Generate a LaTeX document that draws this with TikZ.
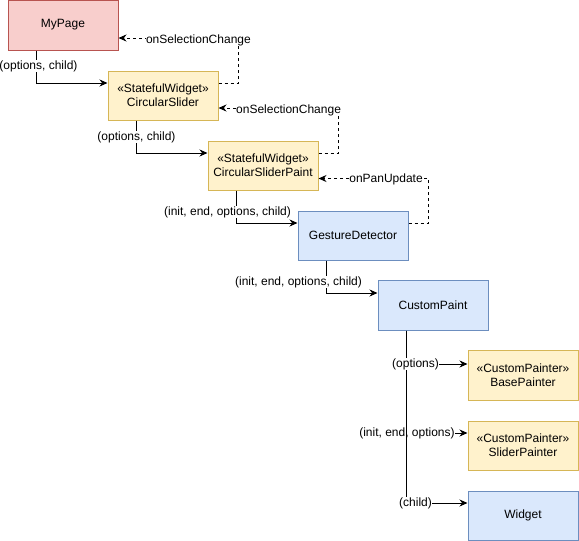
\documentclass[tikz,border=0pt]{standalone}
\usepackage{fontspec}
\setmainfont{Liberation Sans}
\usetikzlibrary{arrows.meta}
\definecolor{pinkfill}{HTML}{F8CECC}
\definecolor{pinkdraw}{HTML}{B85450}
\definecolor{yelfill}{HTML}{FFF2CC}
\definecolor{yeldraw}{HTML}{D6B656}
\definecolor{bluefill}{HTML}{DAE8FC}
\definecolor{bluedraw}{HTML}{6C8EBF}
\begin{document}
\begin{tikzpicture}[x=1pt,y=-1pt,
  box/.style={draw, line width=1pt, minimum width=110pt, minimum height=49pt, inner sep=0pt, align=center, font=\fontsize{12}{14}\selectfont},
  pinkbox/.style={box, fill=pinkfill, draw=pinkdraw},
  yelbox/.style={box, fill=yelfill, draw=yeldraw},
  bluebox/.style={box, fill=bluefill, draw=bluedraw},
  conn/.style={line width=1pt, -{Stealth[length=8pt,width=7pt]}},
  back/.style={conn, dash pattern=on 3pt off 3pt},
  lbl/.style={fill=white, inner sep=0.5pt, font=\fontsize{12}{14}\selectfont}
]
\useasboundingbox (0,0) rectangle (579,541);

\node[pinkbox, minimum height=50pt] (mypage) at (63,25) {MyPage};
\node[yelbox] (cs) at (163,95.5) {«StatefulWidget»\\CircularSlider};
\node[yelbox] (csp) at (263,165.5) {«StatefulWidget»\\CircularSliderPaint};
\node[bluebox] (gd) at (353,235.5) {GestureDetector};
\node[bluebox, minimum height=50pt] (cp) at (433,305) {CustomPaint};
\node[yelbox, minimum height=50pt] (bp) at (523,375) {«CustomPainter»\\BasePainter};
\node[yelbox] (sp) at (523,445.5) {«CustomPainter»\\SliderPainter};
\node[bluebox] (w) at (523,515.5) {Widget};

% forward edges
\draw[conn] ([xshift=29pt]mypage.south west) |- ([yshift=12.5pt]cs.west)
  node[lbl, pos=0.242, xshift=2pt] {(options, child)};
\draw[conn] ([xshift=29pt]cs.south west) |- ([yshift=12.5pt]csp.west)
  node[lbl, pos=0.258] {(options, child)};
\draw[conn] ([xshift=29pt]csp.south west) |- ([yshift=12.5pt]gd.west)
  node[lbl, pos=0.333, xshift=-9pt] {(init, end, options, child)};
\draw[conn] ([xshift=29pt]gd.south west) |- ([yshift=12pt]cp.west)
  node[lbl, pos=0.333, xshift=-28pt] {(init, end, options, child)};

% callbacks
\draw[back] ([yshift=12.5pt]cs.east) -- ++(20,0) |- ([yshift=-13pt]mypage.east)
  node[lbl, pos=0.667, yshift=-2pt] {onSelectionChange};
\draw[back] ([yshift=12.5pt]csp.east) -- ++(20,0) |- ([yshift=-12.5pt]cs.east)
  node[lbl, pos=0.708, yshift=-2pt] {onSelectionChange};
\draw[back] ([yshift=12.5pt]gd.east) -- ++(20,0) |- ([yshift=-13pt]csp.east)
  node[lbl, pos=0.693, yshift=-1pt] {onPanUpdate};

% CustomPaint children
\draw[conn] ([xshift=29pt]cp.south west) |- ([yshift=12.5pt]sp.west)
  node[lbl, pos=0.512, xshift=-1pt] {(init, end, options)};
\draw[conn] ([xshift=29pt]cp.south west) |- ([yshift=12.5pt]w.west)
  node[lbl, pos=0.574] {(child)};
\draw[conn] ([xshift=29pt]cp.south west) |- ([yshift=11pt]bp.west)
  node[lbl, pos=0.574] {(options)};
\end{tikzpicture}
\end{document}
